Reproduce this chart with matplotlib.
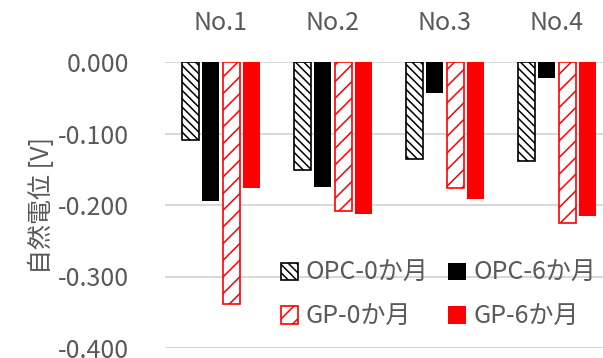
import numpy as np
import matplotlib.pyplot as plt
import matplotlib as mpl

plt.rcParams['font.family'] = ['Noto Sans CJK JP', 'DejaVu Sans']
mpl.rcParams['hatch.linewidth'] = 1.1

categories = ['No.1', 'No.2', 'No.3', 'No.4']
opc_0 = [-0.109, -0.151, -0.135, -0.138]
opc_6 = [-0.195, -0.175, -0.043, -0.022]
gp_0 = [-0.338, -0.209, -0.176, -0.225]
gp_6 = [-0.176, -0.213, -0.191, -0.216]
yticks = [0.0, -0.1, -0.2, -0.3, -0.4]

grey = '#595959'
fs = 18
fig = plt.figure(figsize=(6.03, 3.58), dpi=100)
ax = fig.add_axes([165 / 603, 10 / 358, 438 / 603, 286 / 358])

x = np.arange(len(categories))
w = 0.152
step = 0.18
offs = [-1.5 * step, -0.5 * step, 0.5 * step, 1.5 * step]

b1 = ax.bar(x + offs[0], opc_0, w, color='white', edgecolor='black', hatch='\\\\\\\\',
            linewidth=1.2, label='OPC-0か月', zorder=3)
b2 = ax.bar(x + offs[1], opc_6, w, color='black', label='OPC-6か月', zorder=3)
b3 = ax.bar(x + offs[2], gp_0, w, color='white', edgecolor='red', hatch='//',
            linewidth=1.2, label='GP-0か月', zorder=3)
b4 = ax.bar(x + offs[3], gp_6, w, color='red', label='GP-6か月', zorder=3)

ax.set_ylim(-0.4, 0.0)
ax.set_xlim(-0.5, 3.5 - (613 - 603) / 112)
ax.set_yticks(yticks)
ax.set_yticklabels(['%.3f' % v for v in yticks])
ax.set_xticks(x)
ax.set_xticklabels(categories)
ax.xaxis.tick_top()
ax.tick_params(axis='both', length=0, labelsize=fs, colors=grey)
ax.tick_params(axis='y', pad=26)
ax.tick_params(axis='x', pad=19)
ax.grid(axis='y', color='#d9d9d9', linewidth=1.5, zorder=0)
for s in ax.spines.values():
    s.set_visible(False)

ax.set_ylabel('自然電位 [V]', fontsize=fs, color=grey, labelpad=2)

# row-wise legend order: OPC on the first row, GP on the second
ax.legend([b1, b3, b2, b4], ['OPC-0か月', 'GP-0か月', 'OPC-6か月', 'GP-6か月'],
          ncol=2, frameon=False, fontsize=fs, loc='lower left',
          bbox_to_anchor=(268 / 603, 16 / 358), bbox_transform=fig.transFigure,
          handlelength=0.7, handleheight=0.7, handletextpad=0.3,
          columnspacing=0.8, labelspacing=0.7, borderpad=0.0,
          labelcolor=grey)

fig.savefig('out.png', dpi=100)
